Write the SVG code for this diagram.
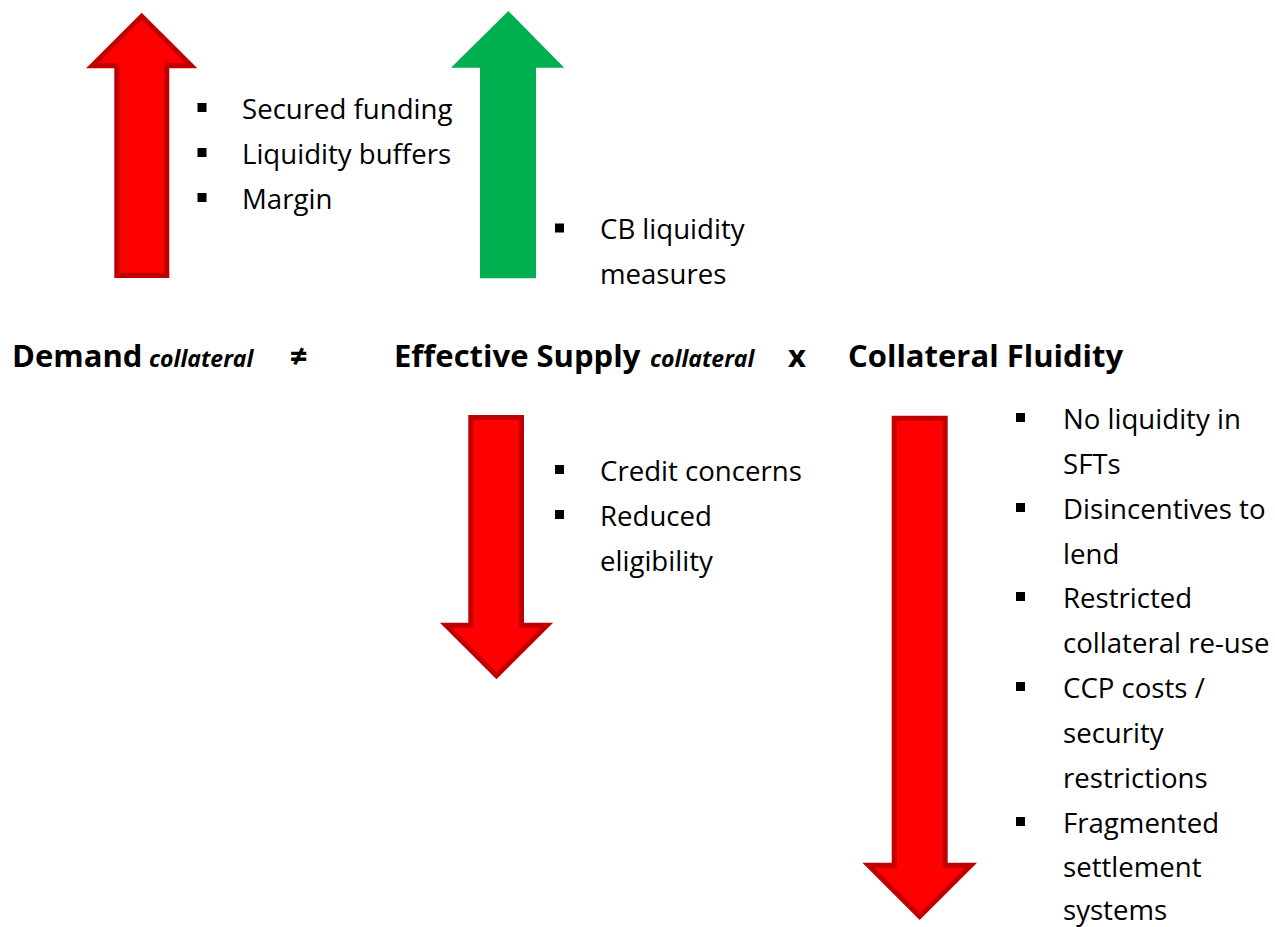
<svg xmlns="http://www.w3.org/2000/svg" width="1275" height="927" viewBox="0 0 1275 927">
<style>
.t{font-family:"Open Sans","Liberation Sans",sans-serif;font-size:27.6px;fill:#000}
.h{font-family:"Open Sans","Liberation Sans",sans-serif;font-size:31px;font-weight:bold;fill:#000}
.hi{font-family:"Open Sans","Liberation Sans",sans-serif;font-size:23px;font-weight:bold;font-style:italic;fill:#000}
.red{fill:#FF0000;stroke:#C00000;stroke-width:5;stroke-linejoin:miter}
.green{fill:#00B050}
.b{fill:#000}
</style>
<rect width="1275" height="927" fill="#fff"/>
<g id="arrow-demand-up">
<path class="red" d="M141.7,16.2 L191.3,65.8 L166.8,65.8 L166.8,275.5 L116.8,275.5 L116.8,65.8 L92.1,65.8 Z"/>
</g>
<g id="arrow-cb-up">
<path class="green" d="M508.3,11 L564.3,67.7 L536,67.7 L536,278.3 L480,278.3 L480,67.7 L451,67.7 Z"/>
</g>
<g id="arrow-supply-down">
<path class="red" d="M470.8,417.5 L521.5,417.5 L521.5,625.2 L547.1,625.2 L496.5,675.8 L445.9,625.2 L470.8,625.2 Z"/>
</g>
<g id="arrow-fluidity-down">
<path class="red" d="M894.2,418.2 L945.2,418.2 L945.2,865.2 L971,865.2 L919.7,916.5 L868.4,865.2 L894.2,865.2 Z"/>
</g>
<g id="list-demand">
<rect class="b" x="197.5" y="103" width="9" height="9"/>
<rect class="b" x="197.5" y="148" width="9" height="9"/>
<rect class="b" x="197.5" y="193" width="9" height="9"/>
<text class="t" x="242" y="119">Secured funding</text>
<text class="t" x="242" y="164">Liquidity buffers</text>
<text class="t" x="242" y="209">Margin</text>
</g>
<g id="list-cb">
<rect class="b" x="555" y="223.5" width="9" height="9"/>
<text class="t" x="600" y="239">CB liquidity</text>
<text class="t" x="600" y="284">measures</text>
</g>
<g id="equation">
<text class="h" x="12" y="367">Demand</text>
<text class="hi" x="149" y="367">collateral</text>
<text class="h" x="290" y="367">≠</text>
<text class="h" x="394" y="367">Effective Supply</text>
<text class="hi" x="650" y="367">collateral</text>
<text class="h" x="788" y="367">x</text>
<text class="h" x="848" y="367">Collateral Fluidity</text>
</g>
<g id="list-supply">
<rect class="b" x="555" y="465" width="9" height="9"/>
<rect class="b" x="555" y="510" width="9" height="9"/>
<text class="t" x="600" y="481">Credit concerns</text>
<text class="t" x="600" y="526">Reduced</text>
<text class="t" x="600" y="571">eligibility</text>
</g>
<g id="list-fluidity">
<rect class="b" x="1016" y="413" width="9" height="9"/>
<rect class="b" x="1016" y="503" width="9" height="9"/>
<rect class="b" x="1016" y="592" width="9" height="9"/>
<rect class="b" x="1016" y="682" width="9" height="9"/>
<rect class="b" x="1016" y="817" width="9" height="9"/>
<text class="t" x="1063" y="429">No liquidity in</text>
<text class="t" x="1063" y="474">SFTs</text>
<text class="t" x="1063" y="519">Disincentives to</text>
<text class="t" x="1063" y="564">lend</text>
<text class="t" x="1063" y="608">Restricted</text>
<text class="t" x="1063" y="653">collateral re-use</text>
<text class="t" x="1063" y="698">CCP costs /</text>
<text class="t" x="1063" y="743">security</text>
<text class="t" x="1063" y="788">restrictions</text>
<text class="t" x="1063" y="833">Fragmented</text>
<text class="t" x="1063" y="877">settlement</text>
<text class="t" x="1063" y="920">systems</text>
</g>
</svg>
